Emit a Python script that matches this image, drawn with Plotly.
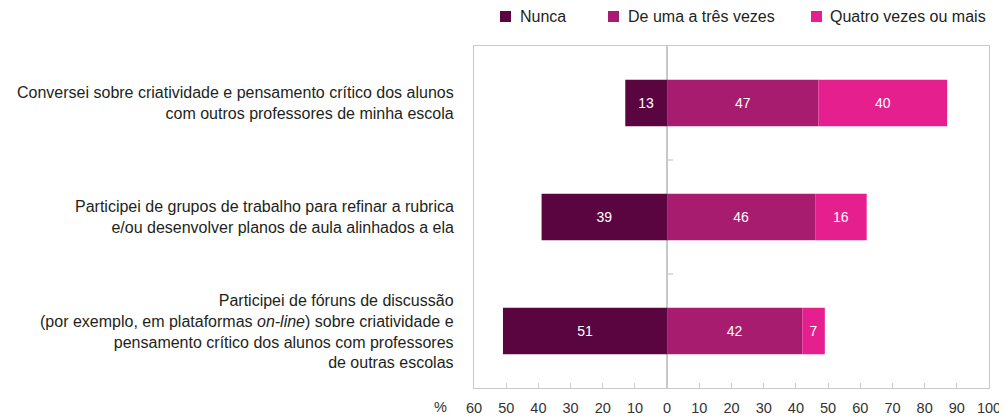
import plotly.graph_objects as go

# Données (en %)
categories = [
    "Conversei sobre criatividade e pensamento crítico dos alunos<br>com outros professores de minha escola",
    "Participei de grupos de trabalho para refinar a rubrica<br>e/ou desenvolver planos de aula alinhados a ela",
    "Participei de fóruns de discussão<br>(por exemplo, em plataformas <i>on-line</i>) sobre criatividade e<br>pensamento crítico dos alunos com professores<br>de outras escolas",
]
nunca = [13, 39, 51]
uma_a_tres = [47, 46, 42]
quatro_mais = [40, 16, 7]

series_names = ["Nunca", "De uma a três vezes", "Quatro vezes ou mais"]
colors = ["#5a0440", "#a81c6f", "#e61f8f"]

tick_values = list(range(-60, 101, 10))
tick_labels = [str(abs(v)) for v in tick_values]

# positions verticales : première catégorie en haut
ypos = [2, 1, 0]

# la page ajoute une marge de 8 px en haut et à gauche du graphique
OFF = 8
W, H = 1007 - OFF, 417 - OFF
# zone de tracé en pixels de l'écran : x 474..989, y 46..388
L, R, T, B = 474 - OFF, 1007 - 989, 46 - OFF, 417 - 388
pw, ph = W - L - R, H - T - B


def px_x(x):
    return (x - OFF - L) / pw


def px_y(y):
    return (H - B - (y - OFF)) / ph


font_family = "Arial, Liberation Sans, sans-serif"

fig = go.Figure()
for name, vals, col, sign in [
    (series_names[0], nunca, colors[0], -1),
    (series_names[1], uma_a_tres, colors[1], 1),
    (series_names[2], quatro_mais, colors[2], 1),
]:
    fig.add_trace(go.Bar(
        y=ypos,
        x=[sign * v for v in vals],
        orientation="h",
        name=name,
        marker=dict(color=col, line=dict(width=0)),
        width=0.41,
        text=[str(v) for v in vals],
        textposition="inside",
        insidetextanchor="middle",
        textangle=0,
        textfont=dict(color="white", size=14, family=font_family),
        hoverinfo="name+text",
        showlegend=False,
    ))

# Libellés des catégories
for y, label in zip(ypos, categories):
    fig.add_annotation(
        x=px_x(456), xref="paper", y=y, yref="y",
        text=label, showarrow=False, xanchor="right", yanchor="middle",
        align="right", font=dict(size=16, color="#231f20", family=font_family),
    )

# Légende dessinée à la main
legend_sq = [500, 608, 811]
legend_tx = [518, 626, 828]
for name, col, sx, tx in zip(series_names, colors, legend_sq, legend_tx):
    fig.add_shape(
        type="rect", xref="paper", yref="paper",
        x0=px_x(sx), x1=px_x(sx + 11), y0=px_y(22), y1=px_y(11),
        fillcolor=col, line=dict(width=0),
    )
    fig.add_annotation(
        x=px_x(tx), xref="paper", y=px_y(16.5), yref="paper",
        text=name, showarrow=False, xanchor="left", yanchor="middle",
        font=dict(size=16, color="#231f20", family=font_family),
    )

# petit "%" à gauche des graduations
fig.add_annotation(
    x=px_x(440), xref="paper", y=px_y(407), yref="paper",
    text="%", showarrow=False, xanchor="center", yanchor="middle",
    font=dict(size=14.5, color="#333333", family=font_family),
)

# petites graduations sur l'axe zéro entre les catégories
for b in [0.5, 1.5]:
    fig.add_shape(
        type="line", xref="x", yref="y", xsizemode="pixel", xanchor=0,
        x0=0, x1=6, y0=b, y1=b, line=dict(color="#d0d0d0", width=1.5),
    )

fig.update_layout(
    width=W, height=H,
    margin=dict(l=L, r=R, t=T, b=B, autoexpand=False),
    barmode="relative",
    plot_bgcolor="white", paper_bgcolor="white",
    font=dict(family=font_family, color="#333333"),
    showlegend=False,
    xaxis=dict(
        range=[-60, 100],
        tickvals=tick_values, ticktext=tick_labels,
        ticks="inside", ticklen=5, tickcolor="#cccccc", tickwidth=1,
        showgrid=False,
        zeroline=True, zerolinecolor="#c8c8c8", zerolinewidth=1.5,
        showline=True, linecolor="#c8c8c8", linewidth=1, mirror=True,
        tickfont=dict(size=14.5, color="#333333"),
        ticklabelstandoff=7,
        layer="above traces",
        automargin=False,
        fixedrange=True,
    ),
    yaxis=dict(
        range=[-0.5, 2.5],
        showticklabels=False, ticks="", showgrid=False, zeroline=False,
        showline=True, linecolor="#c8c8c8", linewidth=1, mirror=True,
        automargin=False,
        fixedrange=True,
    ),
)

fig.write_html("out.html")
